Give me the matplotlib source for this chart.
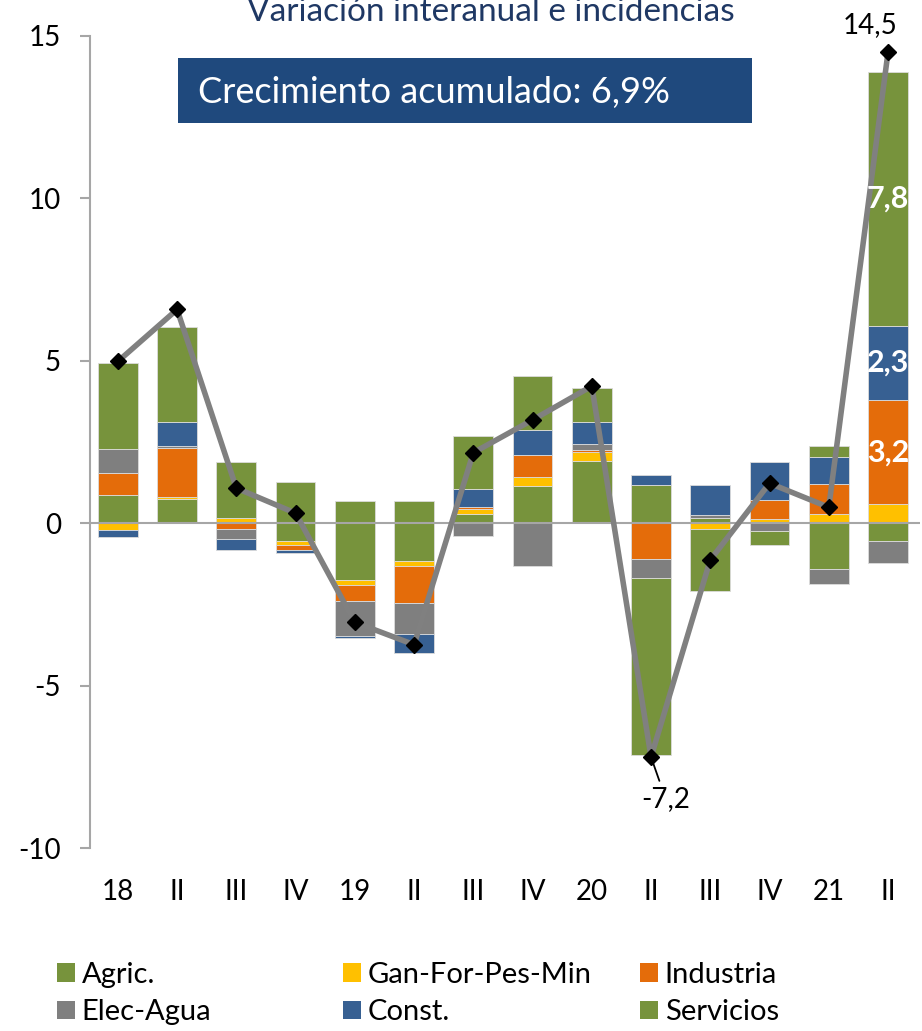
import numpy as np
import matplotlib
matplotlib.use("Agg")
import matplotlib.pyplot as plt
from matplotlib.patches import Rectangle, Patch

plt.rcParams["font.family"] = ["Lato", "DejaVu Sans"]

# trimestres 2018-2021
quarters = ["18", "II", "III", "IV", "19", "II", "III", "IV",
            "20", "II", "III", "IV", "21", "II"]

# incidencias por sector (puntos porcentuales)
agric = [0.87, 0.75, 0.05, -0.54, -1.76, -1.15, 0.29, 1.14, 1.91, 1.18, 0.15, 0.05, -1.42, -0.54]
gan_for = [-0.22, 0.05, 0.10, -0.14, -0.14, -0.17, 0.15, 0.28, 0.28, 0.0, -0.18, 0.07, 0.29, 0.58]
industria = [0.69, 1.53, -0.18, -0.15, -0.49, -1.13, 0.05, 0.69, 0.05, -1.11, 0.02, 0.60, 0.91, 3.2]
elec_agua = [0.73, 0.05, -0.30, 0.03, -1.08, -0.95, -0.38, -1.32, 0.20, -0.58, 0.08, -0.25, -0.45, -0.69]
const = [-0.21, 0.75, -0.34, -0.10, -0.05, -0.60, 0.56, 0.75, 0.68, 0.31, 0.94, 1.16, 0.85, 2.3]
servicios = [2.64, 2.90, 1.72, 1.25, 0.68, 0.68, 1.64, 1.67, 1.05, -5.46, -1.92, -0.42, 0.34, 7.8]

# variacion interanual total
total = [4.98, 6.58, 1.08, 0.31, -3.05, -3.74, 2.17, 3.18, 4.22, -7.2, -1.13, 1.23, 0.49, 14.5]

GREEN = "#77933C"
YELLOW = "#FFC000"
ORANGE = "#E46C0A"
GRAY = "#7F7F7F"
BLUE = "#376092"
NAVY = "#1F497D"

series = [
    ("Agric.", agric, GREEN),
    ("Gan-For-Pes-Min", gan_for, YELLOW),
    ("Industria", industria, ORANGE),
    ("Elec-Agua", elec_agua, GRAY),
    ("Const.", const, BLUE),
    ("Servicios", servicios, GREEN),
]

fig = plt.figure(figsize=(9.22, 10.31), dpi=100)
ax = fig.add_axes([90 / 922, 1 - 848 / 1031, 830 / 922, (848 - 36) / 1031])

x = np.arange(len(quarters))
pos_base = np.zeros(len(x))
neg_base = np.zeros(len(x))
bottoms = {}
for name, vals, col in series:
    v = np.array(vals, dtype=float)
    bottom = np.where(v >= 0, pos_base, neg_base)
    bottoms[name] = bottom.copy()
    ax.bar(x, v, width=0.67, bottom=bottom, color=col,
           edgecolor="#dcdcdc", linewidth=0.6, zorder=2)
    pos_base += np.where(v >= 0, v, 0)
    neg_base += np.where(v < 0, v, 0)

ax.axhline(0, color="#a6a6a6", lw=1.5, zorder=3)
ax.plot(x, total, color="#808080", lw=4, marker="D", ms=8,
        mfc="black", mec="black", zorder=4)

# etiquetas dentro de la ultima barra
last = len(x) - 1
for name, vals in [("Industria", industria), ("Const.", const), ("Servicios", servicios)]:
    yc = bottoms[name][last] + vals[last] / 2
    ax.text(x[last], yc, f"{vals[last]:.1f}".replace(".", ","), ha="center",
            va="center", color="white", fontsize=22, fontweight="bold", zorder=5)

ax.text(x[last] - 0.3, total[last] + 0.45, "14,5", ha="center", va="bottom",
        fontsize=20, zorder=5)
ax.annotate("-7,2", xy=(x[9], total[9]), xytext=(x[9] + 0.25, total[9] - 1.3),
            ha="center", va="center", fontsize=20, zorder=5,
            arrowprops=dict(arrowstyle="-", color="black", lw=1.3,
                            shrinkA=2, shrinkB=5))

ax.set_xlim(-0.47, 13.54)
ax.set_ylim(-10, 15)
ax.set_yticks([-10, -5, 0, 5, 10, 15])
ax.set_yticklabels(["-10", "-5", "0", "5", "10", "15"])
ax.set_xticks(x)
ax.set_xticklabels(quarters)
for s in ["top", "right", "bottom"]:
    ax.spines[s].set_visible(False)
ax.spines["left"].set_color("#a6a6a6")
ax.spines["left"].set_linewidth(1.5)
ax.tick_params(axis="y", length=7, width=1.5, color="#a6a6a6", pad=14, labelsize=20)
ax.tick_params(axis="x", length=0, pad=22, labelsize=20)

# titulo (cortado arriba como en la imagen original)
fig.text(491 / 922, 1 - 21 / 1031, "Variación interanual e incidencias",
         ha="center", va="baseline", fontsize=24, color="#1F3864")

# recuadro con el crecimiento acumulado
fig.patches.append(Rectangle((178 / 922, 1 - 123 / 1031), (752 - 178) / 922, 65 / 1031,
                             transform=fig.transFigure, facecolor=NAVY,
                             edgecolor="none", zorder=5))
fig.text(198 / 922, 1 - 92 / 1031, "Crecimiento acumulado: 6,9%",
         ha="left", va="center", fontsize=26, color="white", zorder=6)

# leyenda en tres columnas (orden por filas como en Excel)
cols = [(57, [series[0], series[3]]), (343, [series[1], series[4]]), (640, [series[2], series[5]])]
for xpx, items in cols:
    handles = [Patch(facecolor=c, edgecolor="none") for _, _, c in items]
    labels = [n for n, _, _ in items]
    fig.legend(handles, labels, loc="upper left",
               bbox_to_anchor=(xpx / 922, 1 - 962 / 1031), frameon=False,
               fontsize=21, handlelength=0.6, handleheight=0.6,
               handletextpad=0.25, labelspacing=0.38, borderpad=0,
               borderaxespad=0)

fig.savefig("out.png", dpi=100)
